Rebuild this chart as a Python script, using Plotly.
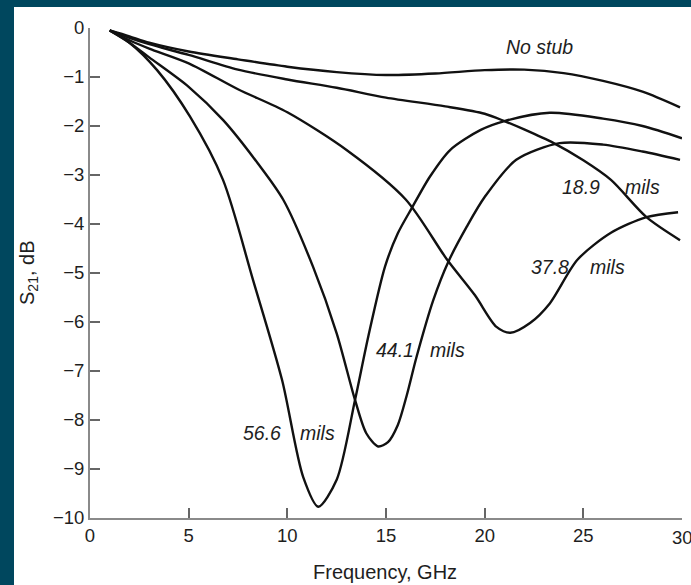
import plotly.graph_objects as go

# ---- data ----
f_nostub = [1, 2, 3, 5, 7.5, 10, 12.5, 15, 17.5, 20, 22, 24, 26, 28, 29.9]
db_nostub = [-0.05, -0.17, -0.3, -0.48, -0.64, -0.79, -0.9, -0.96, -0.93, -0.86, -0.85, -0.92, -1.08, -1.3, -1.62]

f_189 = [1, 2, 3, 5, 7.5, 10, 12.5, 15, 18, 20, 21, 22, 23.5, 25, 26.4, 28.2, 29.9]
db_189 = [-0.05, -0.2, -0.33, -0.55, -0.85, -1.05, -1.22, -1.42, -1.6, -1.75, -1.9, -2.07, -2.35, -2.7, -3.1, -3.86, -4.33]

f_378 = [1, 2, 3, 5, 7.5, 10, 13, 16, 18.1, 19.5, 20.6, 21.3, 22.3, 23.3, 24.7, 26.4, 28.2, 29.8]
db_378 = [-0.05, -0.25, -0.42, -0.72, -1.25, -1.72, -2.49, -3.5, -4.73, -5.45, -6.1, -6.22, -6.02, -5.62, -4.73, -4.18, -3.86, -3.76]

f_441 = [1, 2, 3, 5, 6.75, 8.5, 9.8, 11.3, 12.5, 13.43, 14, 14.6, 15.1, 15.6, 16.05, 16.55, 17.4, 18.16, 19.1, 20, 21.6, 23.8, 26, 28, 29.9]
db_441 = [-0.05, -0.3, -0.6, -1.2, -1.88, -2.76, -3.51, -4.87, -6.23, -7.59, -8.27, -8.54, -8.45, -8.1, -7.5, -6.71, -5.55, -4.77, -4.05, -3.45, -2.69, -2.35, -2.38, -2.52, -2.69]

f_566 = [1, 2, 3.4, 5.07, 6.74, 8.26, 9.73, 10.8, 11.57, 12.5, 13.43, 14.1, 14.95, 15.6, 16.3, 17.23, 18.25, 19.8, 21, 23.3, 26, 28, 30]
db_566 = [-0.05, -0.3, -0.86, -1.81, -3.1, -5.14, -7.18, -9.16, -9.77, -9.22, -7.59, -6.3, -4.87, -4.19, -3.68, -3.03, -2.49, -2.08, -1.9, -1.73, -1.85, -2.0, -2.25]

x_ticks = [0, 5, 10, 15, 20, 25, 30]
y_ticks = [0, -1, -2, -3, -4, -5, -6, -7, -8, -9, -10]

# curve labels: (text, x, y)
labels = [
    ("No stub", 22.8, -0.39),
    ("18.9", 24.9, -3.24), ("mils", 28.0, -3.24),
    ("37.8", 23.3, -4.88), ("mils", 26.2, -4.88),
    ("44.1", 15.46, -6.57), ("mils", 18.1, -6.57),
    ("56.6", 8.7, -8.27), ("mils", 11.55, -8.27),
]

BORDER = "#00475e"
INK = "#1e1e1e"
FONT = "Liberation Sans, Arial, sans-serif"

fig = go.Figure()
for fx, fy in [(f_nostub, db_nostub), (f_189, db_189), (f_378, db_378),
               (f_441, db_441), (f_566, db_566)]:
    fig.add_trace(go.Scatter(x=fx, y=fy, mode="lines",
                             line=dict(color="#111111", width=2.4, shape="spline", smoothing=0.8),
                             showlegend=False, hoverinfo="skip"))

for t, x, y in labels:
    fig.add_annotation(x=x, y=y, text="<i>" + t + "</i>", showarrow=False, xref="x", yref="y",
                       font=dict(family=FONT, size=19.5, color=INK),
                       xanchor="center", yanchor="middle")

L, R, T, B = 90, 9, 28, 67
W, H = 691, 585
pw, ph = W - L - R, H - T - B

# white canvas inside the dark frame
fig.add_shape(type="rect", xref="paper", yref="paper",
              x0=(14 - L) / pw, x1=(W - L) / pw + 0.01,
              y0=-(B) / ph - 0.01, y1=(H - B - 7) / ph,
              fillcolor="white", line=dict(width=0), layer="below")

# axis titles
fig.add_annotation(xref="paper", yref="paper", x=(385 - L) / pw, y=(H - B - 572) / ph,
                   text="Frequency, GHz", showarrow=False,
                   font=dict(family=FONT, size=20, color=INK),
                   xanchor="center", yanchor="middle")
fig.add_annotation(xref="paper", yref="paper", x=(28 - L) / pw, y=(H - B - 273) / ph,
                   text="S<sub>21</sub>, dB", showarrow=False, textangle=-90,
                   font=dict(family=FONT, size=20, color=INK),
                   xanchor="center", yanchor="middle")

# last x tick label sits at the page edge (plotly would hide it) -> draw it as text
fig.add_annotation(xref="x", yref="paper", x=x_ticks[-1], y=(H - B - 537 - (H - B - 518)) / ph,
                   text=str(x_ticks[-1]), showarrow=False,
                   font=dict(family=FONT, size=18.5, color=INK),
                   xanchor="center", yanchor="middle")

fig.update_layout(
    width=W, height=H,
    margin=dict(l=L, r=R, t=T, b=B),
    paper_bgcolor=BORDER, plot_bgcolor="white",
    font=dict(family=FONT, size=18, color=INK),
)
fig.update_xaxes(range=[0, 30], tickvals=x_ticks,
                 ticktext=[str(v) for v in x_ticks[:-1]] + [""],
                 showgrid=False, zeroline=False, showline=True, linecolor="#8a8a8a", linewidth=2,
                 ticks="inside", ticklen=10, tickwidth=2, tickcolor="#666",
                 tickfont=dict(family=FONT, size=18.5, color=INK))
fig.update_yaxes(range=[-10, 0], tickvals=y_ticks,
                 showgrid=False, zeroline=False, showline=True, linecolor="#8a8a8a", linewidth=2,
                 ticks="inside", ticklen=10, tickwidth=2, tickcolor="#666",
                 tickfont=dict(family=FONT, size=18.5, color=INK))

fig.write_html("out.html")
